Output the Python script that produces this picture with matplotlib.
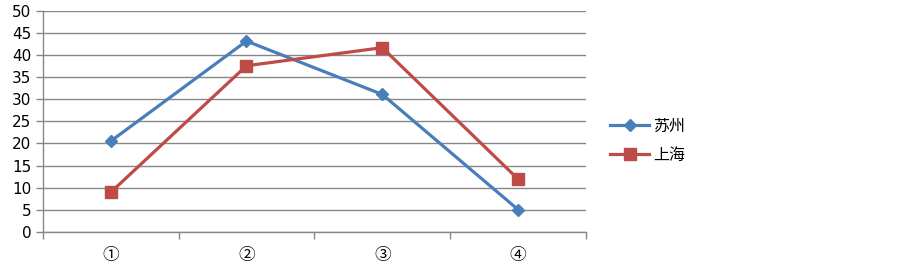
import matplotlib
matplotlib.use("Agg")
import matplotlib.pyplot as plt

plt.rcParams['font.family'] = ['Noto Sans CJK SC', 'DejaVu Sans']

categories = ["①", "②", "③", "④"]
suzhou = [20.5, 43.2, 31.1, 5.0]
shanghai = [8.9, 37.6, 41.7, 11.9]
yticks = list(range(0, 51, 5))

blue = "#4A7EBB"
red = "#BE4B48"
grid = "#878787"

fig = plt.figure(figsize=(9.03, 2.76), dpi=100)
ax = fig.add_axes([0.0473, 0.1605, 0.6017, 0.7995])

x = [i + 0.5 for i in range(len(categories))]
ax.plot(x, suzhou, color=blue, lw=2.3, marker="D", ms=6.5, label="苏州")
ax.plot(x, shanghai, color=red, lw=2.3, marker="s", ms=8, label="上海")

ax.set_xlim(0, len(categories))
ax.set_ylim(0, 50)
ax.set_yticks(yticks)
ax.set_yticklabels([str(v) for v in yticks], fontsize=11, family="DejaVu Sans")
ax.set_xticks(x)
ax.set_xticklabels(categories, fontsize=12)
ax.set_xticks(range(len(categories) + 1), minor=True)
ax.tick_params(axis="x", which="major", length=0, pad=11)
ax.tick_params(axis="x", which="minor", length=5, color=grid, width=1)
ax.tick_params(axis="y", length=5, color=grid, width=1, pad=3)

ax.grid(axis="y", color=grid, lw=1)
ax.set_axisbelow(True)
for s in ["top", "right"]:
    ax.spines[s].set_visible(False)
for s in ["left", "bottom"]:
    ax.spines[s].set_color(grid)
    ax.spines[s].set_linewidth(1)

fig.legend(loc="center left", bbox_to_anchor=(0.66, 0.49), frameon=False,
           fontsize=11.5, handlelength=2.4, labelspacing=0.75, handletextpad=0.3)

fig.savefig("out.png", dpi=100)
